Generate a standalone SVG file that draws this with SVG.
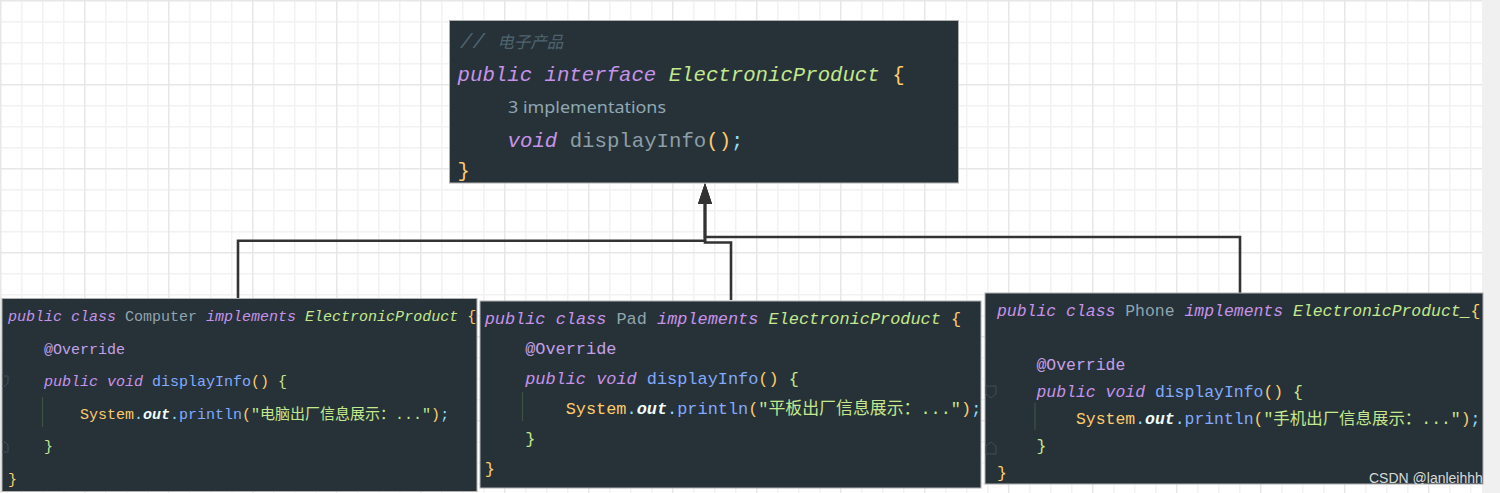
<svg xmlns="http://www.w3.org/2000/svg" width="1500" height="493" viewBox="0 0 1500 493">
<style>
.mono{font-family:"Liberation Mono","Noto Sans CJK SC",monospace}
.kw{fill:#c792ea;font-style:italic}
.cls{fill:#c3e88d;font-style:italic}
.name{fill:#90a4ae}
.y{fill:#ffcb6b}
.g{fill:#c3e88d}
.fn{fill:#82aaff}
.gr{fill:#8d9ea6}
.p{fill:#89ddff}
.out{fill:#eeffff;font-style:italic;font-weight:bold}
.ann{fill:#c3a0e8}
.str{fill:#c3e88d}
.cm{fill:#4f6470;font-style:italic}
.box{fill:#263238;stroke:#b0b0b0;stroke-width:1}
.guide{stroke:#3b5244;stroke-width:1.2}
.fold{fill:none;stroke:#3e4d55;stroke-width:1}
.conn{fill:none;stroke:#333;stroke-width:2.6}
</style>
<defs>
<pattern id="grid" x="0" y="0" width="84" height="84" patternUnits="userSpaceOnUse">
<rect width="84" height="84" fill="#ffffff"/>
<g fill="#f2f2f2">
<rect x="21" y="0" width="1.5" height="84"/><rect x="42" y="0" width="1.5" height="84"/><rect x="63" y="0" width="1.5" height="84"/>
<rect x="0" y="21" width="84" height="1.5"/><rect x="0" y="42" width="84" height="1.5"/><rect x="0" y="63" width="84" height="1.5"/>
</g>
<g fill="#e7e7e7">
<rect x="0" y="0" width="1.5" height="84"/><rect x="0" y="0" width="84" height="1.5"/>
</g>
</pattern>
<marker id="arrow" viewBox="0 0 21 14" refX="0" refY="7" markerWidth="21" markerHeight="14" markerUnits="userSpaceOnUse" orient="auto">
<path d="M0,0 L21,7 L0,14 Z" fill="#333"/>
</marker>
</defs>

<rect x="0" y="0" width="1500" height="493" fill="url(#grid)"/>
<rect x="1482" y="0" width="18" height="493" fill="#f0f0f0"/>

<g id="connectors">
<path class="conn" d="M238,298 V240.7 H705 V204" marker-end="url(#arrow)"/>
<path class="conn" d="M731,300 V242.5 H705 V204" marker-end="url(#arrow)"/>
<path class="conn" d="M1240,293 V237 H705 V204" marker-end="url(#arrow)"/>
</g>

<g id="interface-ElectronicProduct">
<rect class="box" x="449.5" y="20.5" width="509" height="162.5"/>
<text class="mono cm" x="460" y="48" font-size="20.7">// <tspan font-size="16.5">电子产品</tspan></text>
<text class="mono" x="457.6" y="81" font-size="20.7"><tspan class="kw">public interface</tspan> <tspan class="cls">ElectronicProduct</tspan> <tspan class="y">{</tspan></text>
<text x="508" y="113" font-family="Noto Sans, sans-serif" font-size="15.4" fill="#8fa8b3" textLength="158" lengthAdjust="spacingAndGlyphs">3 implementations</text>
<text class="mono" x="507.6" y="146.5" font-size="20.7"><tspan class="kw">void</tspan> <tspan class="gr">displayInfo</tspan><tspan class="y">()</tspan><tspan class="p">;</tspan></text>
<text class="mono y" x="457.6" y="177" font-size="20.7">}</text>
</g>

<g id="class-Computer">
<rect class="box" x="2" y="298.5" width="475" height="193"/>
<path class="fold" d="M2,376 H8 V383 L5,386 H2"/>
<path class="fold" d="M2,452 H8 V445 L5,442 H2"/>
<line class="guide" x1="42.5" y1="397" x2="42.5" y2="427"/>
<g class="mono" font-size="15">
<text x="8" y="321"><tspan class="kw">public class</tspan> <tspan class="name">Computer</tspan> <tspan class="kw">implements</tspan> <tspan class="cls">ElectronicProduct</tspan> <tspan class="y">{</tspan></text>
<text class="ann" x="44" y="353.6">@Override</text>
<text x="44" y="386.2"><tspan class="kw">public void</tspan> <tspan class="fn">displayInfo</tspan><tspan class="y">()</tspan> <tspan class="g">{</tspan></text>
<text x="80" y="418.8"><tspan class="y">System</tspan><tspan class="p">.</tspan><tspan class="out">out</tspan><tspan class="p">.</tspan><tspan class="fn">println</tspan><tspan class="y">(</tspan><tspan class="str">"电脑出厂信息展示：..."</tspan><tspan class="y">)</tspan><tspan class="p">;</tspan></text>
<text class="g" x="44" y="451.4">}</text>
<text class="y" x="8" y="484">}</text>
</g>
</g>

<g id="class-Pad">
<rect class="box" x="480" y="301" width="501" height="187"/>
<line class="guide" x1="522.5" y1="392" x2="522.5" y2="421"/>
<g class="mono" font-size="16.9">
<text x="484.7" y="323.7"><tspan class="kw">public class</tspan> <tspan class="name">Pad</tspan> <tspan class="kw">implements</tspan> <tspan class="cls">ElectronicProduct</tspan> <tspan class="y">{</tspan></text>
<text class="ann" x="525.2" y="353.7">@Override</text>
<text x="525.2" y="383.7"><tspan class="kw">public void</tspan> <tspan class="fn">displayInfo</tspan><tspan class="y">()</tspan> <tspan class="g">{</tspan></text>
<text x="565.7" y="413.7"><tspan class="y">System</tspan><tspan class="p">.</tspan><tspan class="out">out</tspan><tspan class="p">.</tspan><tspan class="fn">println</tspan><tspan class="y">(</tspan><tspan class="str">"平板出厂信息展示：..."</tspan><tspan class="y">)</tspan><tspan class="p">;</tspan></text>
<text class="g" x="525.2" y="443.7">}</text>
<text class="y" x="484.7" y="473.7">}</text>
</g>
</g>

<g id="class-Phone">
<rect class="box" x="985" y="293" width="498" height="191"/>
<path class="fold" d="M986,386 H996 V394 L991,398 L986,394 Z"/>
<path class="fold" d="M986,454 H996 V446 L991,442 L986,446 Z"/>
<line class="guide" x1="1035" y1="403" x2="1035" y2="430"/>
<g class="mono" font-size="16.45">
<text x="997" y="315.8"><tspan class="kw">public class</tspan> <tspan class="name">Phone</tspan> <tspan class="kw">implements</tspan> <tspan class="cls">ElectronicProduct_</tspan><tspan class="y">{</tspan></text>
<text class="ann" x="1036.5" y="369.8">@Override</text>
<text x="1036.5" y="396.8"><tspan class="kw">public void</tspan> <tspan class="fn">displayInfo</tspan><tspan class="y">()</tspan> <tspan class="g">{</tspan></text>
<text x="1076" y="423.8"><tspan class="y">System</tspan><tspan class="p">.</tspan><tspan class="out">out</tspan><tspan class="p">.</tspan><tspan class="fn">println</tspan><tspan class="y">(</tspan><tspan class="str">"手机出厂信息展示：..."</tspan><tspan class="y">)</tspan><tspan class="p">;</tspan></text>
<text class="g" x="1036.5" y="450.8">}</text>
<text class="y" x="997" y="477.8">}</text>
</g>
<text x="1369" y="483" font-family="Liberation Sans, sans-serif" font-size="14" fill="#dadada">CSDN @lanleihhh</text>
</g>
</svg>
